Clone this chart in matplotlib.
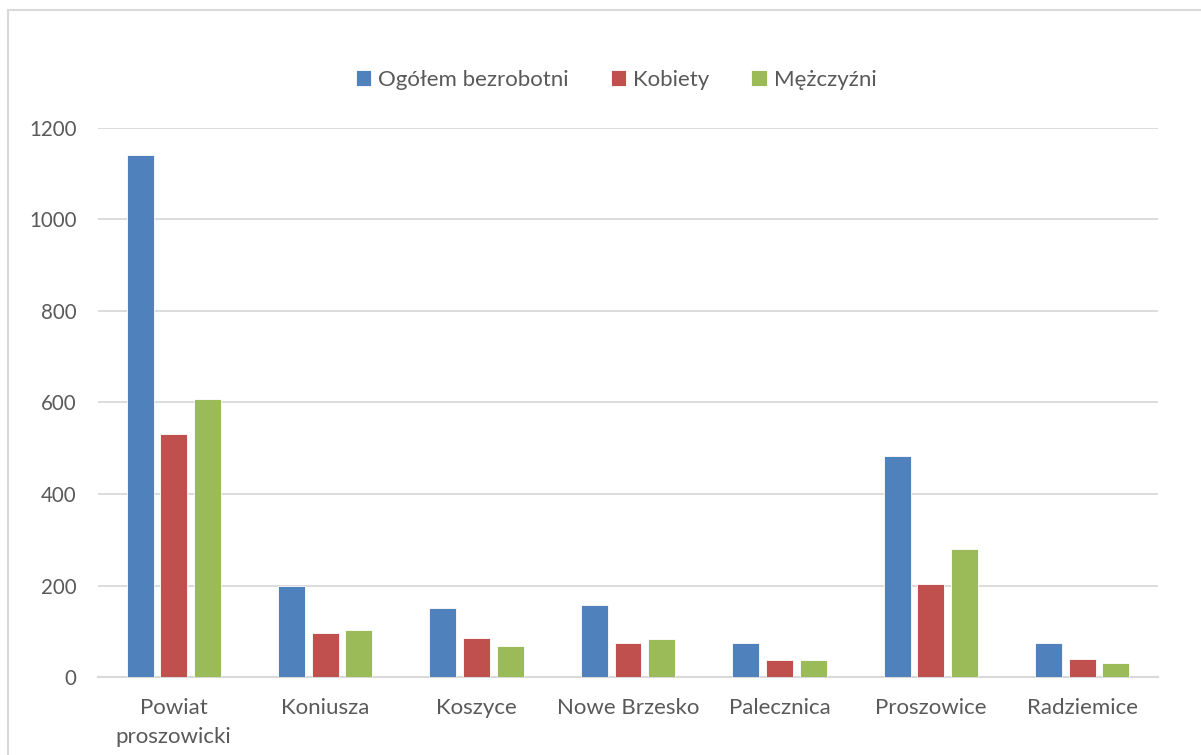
import matplotlib
matplotlib.use("Agg")
import matplotlib.pyplot as plt
from matplotlib.patches import Rectangle
import numpy as np

plt.rcParams['font.family'] = ['Lato', 'DejaVu Sans']

# data
gminy = ["Powiat\nproszowicki", "Koniusza", "Koszyce", "Nowe Brzesko",
         "Palecznica", "Proszowice", "Radziemice"]
ogolem = [1140, 200, 152, 158, 74, 482, 74]
kobiety = [532, 96, 85, 74, 37, 203, 39]
mezczyzni = [607, 104, 68, 84, 37, 281, 32]
y_ticks = [0, 200, 400, 600, 800, 1000, 1200]

series = [("Ogółem bezrobotni", ogolem, "#4F81BD"),
          ("Kobiety", kobiety, "#C0504D"),
          ("Mężczyźni", mezczyzni, "#9BBB59")]

W, H = 1201, 755
fig = plt.figure(figsize=(W / 100, H / 100), dpi=100)

# outer chart frame (cut off on the right/bottom in the reference)
fig.patches.append(Rectangle((8 / W, -0.1), 1.2, (H - 10) / H + 0.1,
                             transform=fig.transFigure, fill=False,
                             edgecolor="#D9D9D9", linewidth=1.5))

ax = fig.add_axes([98 / W, (H - 677.3) / H, (1158 - 98) / W, (677.3 - 127.5) / H])

x = np.arange(len(gminy))
step = 0.222
for i, (name, vals, col) in enumerate(series):
    ax.bar(x + (i - 1) * step, vals, width=0.178, color=col,
           edgecolor="white", linewidth=0.6, label=name, zorder=3)

ax.set_xlim(-0.5, len(gminy) - 0.5)
ax.set_ylim(0, 1200)
ax.set_yticks(y_ticks)
ax.set_xticks(x)
ax.set_xticklabels(gminy, fontsize=16, color="#595959", linespacing=1.55)
ax.tick_params(axis="y", length=0, pad=15.5, labelsize=14.8, labelcolor="#595959")
ax.tick_params(axis="x", length=0, pad=15)
ax.yaxis.grid(True, color="#D9D9D9", linewidth=1.3, zorder=0)
for s in ["left", "right", "top"]:
    ax.spines[s].set_visible(False)
ax.spines["bottom"].set_color("#D9D9D9")
ax.spines["bottom"].set_linewidth(1.5)

leg = fig.legend(loc="center", bbox_to_anchor=(616 / W, 1 - 79.5 / H), ncol=3,
                 frameon=False, fontsize=16, handlelength=0.7,
                 handleheight=0.7, handletextpad=0.3, columnspacing=1.9)
for t in leg.get_texts():
    t.set_color("#595959")

fig.savefig("out.png", dpi=100)
